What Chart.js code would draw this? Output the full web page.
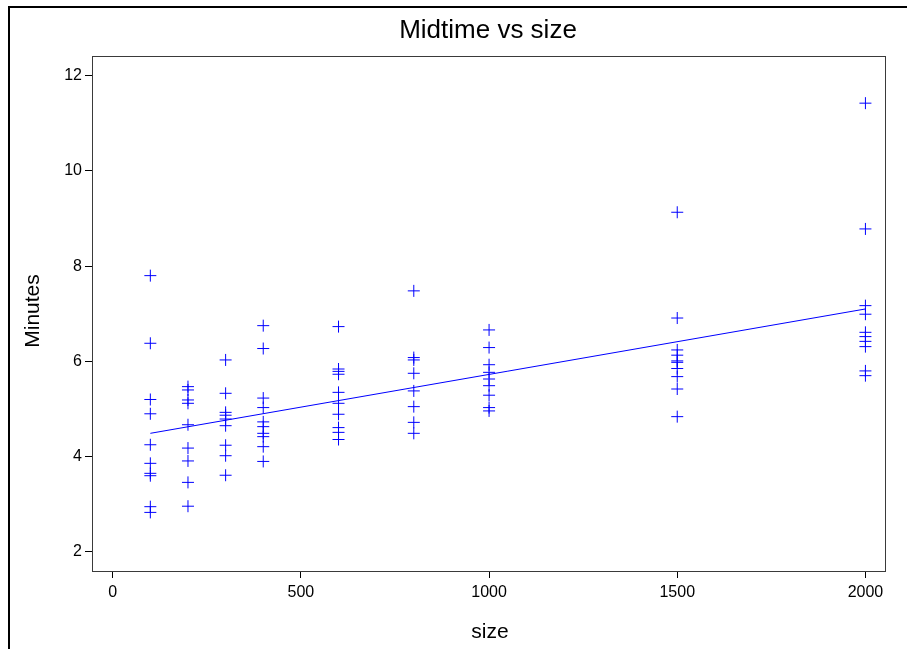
<!DOCTYPE html>
<html>
<head>
<meta charset="utf-8">
<script src="https://cdn.jsdelivr.net/npm/chart.js@4/dist/chart.umd.min.js"></script>
<style>
  html, body { margin: 0; padding: 0; background: #ffffff; }
  #wrap { width: 907px; height: 649px; position: relative; }
</style>
</head>
<body>
<div id="wrap"><canvas id="c" width="907" height="649"></canvas></div>
<script>
// ---- data ----
const sizes = [100, 200, 300, 400, 600, 800, 1000, 1500, 2000];
const minutesAt100  = [7.80, 6.38, 5.20, 4.90, 4.25, 3.86, 3.65, 3.60, 2.95, 2.83];
const minutesAt200  = [5.47, 5.40, 5.19, 5.12, 4.67, 4.18, 3.91, 3.46, 2.96];
const minutesAt300  = [6.03, 5.33, 4.93, 4.87, 4.79, 4.65, 4.24, 4.02, 3.61];
const minutesAt400  = [6.75, 6.27, 5.23, 5.03, 4.73, 4.63, 4.49, 4.42, 4.21, 3.90];
const minutesAt600  = [6.73, 5.84, 5.79, 5.73, 5.35, 5.12, 4.89, 4.61, 4.51, 4.36];
const minutesAt800  = [7.48, 6.08, 6.03, 5.75, 5.38, 5.05, 4.72, 4.49];
const minutesAt1000 = [6.66, 6.29, 5.93, 5.77, 5.63, 5.49, 5.29, 5.03, 4.96];
const minutesAt1500 = [9.13, 6.91, 6.24, 6.13, 6.01, 5.98, 5.85, 5.68, 5.42, 4.84];
const minutesAt2000 = [11.42, 8.78, 7.17, 6.99, 6.61, 6.52, 6.42, 6.31, 5.80, 5.70];
const minutesBySize = [minutesAt100, minutesAt200, minutesAt300, minutesAt400, minutesAt600,
                       minutesAt800, minutesAt1000, minutesAt1500, minutesAt2000];
// fitted line endpoints
const fitSize = [100, 2000];
const fitMinutes = [4.49, 7.10];
const xTicks = [0, 500, 1000, 1500, 2000];
const yTicks = [2, 4, 6, 8, 10, 12];

const points = [];
sizes.forEach((s, i) => minutesBySize[i].forEach(m => points.push({ x: s, y: m })));
const fitPoints = fitSize.map((s, i) => ({ x: s, y: fitMinutes[i] }));

const FONT = '"Liberation Sans", Arial, sans-serif';

const decor = {
  id: 'decor',
  beforeDraw(chart) {
    const ctx = chart.ctx;
    ctx.save();
    ctx.fillStyle = '#ffffff';
    ctx.fillRect(0, 0, chart.width, chart.height);
    ctx.restore();
  },
  afterDraw(chart) {
    const ctx = chart.ctx;
    const a = chart.chartArea;
    ctx.save();
    // outer frame
    ctx.strokeStyle = '#000000';
    ctx.lineWidth = 2;
    ctx.strokeRect(9, 7, chart.width + 20, chart.height + 20);
    // plot box
    ctx.strokeStyle = '#3a3a3a';
    ctx.lineWidth = 1;
    ctx.strokeRect(Math.round(a.left) + 0.5, Math.round(a.top) + 0.5,
                   Math.round(a.right - a.left), Math.round(a.bottom - a.top));
    // title
    ctx.fillStyle = '#000000';
    ctx.textAlign = 'center';
    ctx.textBaseline = 'middle';
    ctx.font = '26px ' + FONT;
    ctx.fillText('Midtime vs size', 488, 31);
    // x axis title
    ctx.font = '21px ' + FONT;
    ctx.fillText('size', 490, 632);
    // y axis title
    ctx.translate(33, 311);
    ctx.rotate(-Math.PI / 2);
    ctx.fillText('Minutes', 0, 0);
    ctx.restore();
  }
};

new Chart(document.getElementById('c'), {
  data: {
    datasets: [
      {
        type: 'scatter',
        label: 'Minutes',
        data: points,
        pointStyle: 'cross',
        pointRadius: 6,
        pointHoverRadius: 6,
        borderColor: '#0000ff',
        backgroundColor: '#0000ff',
        borderWidth: 1
      },
      {
        type: 'line',
        label: 'Fit',
        data: fitPoints,
        borderColor: '#0000ff',
        borderWidth: 1,
        pointRadius: 0,
        fill: false,
        tension: 0
      }
    ]
  },
  options: {
    responsive: false,
    animation: false,
    devicePixelRatio: 1,
    layout: { padding: { left: 0, top: 56, right: 22, bottom: 0 } },
    plugins: {
      legend: { display: false },
      tooltip: { enabled: false },
      title: { display: false }
    },
    scales: {
      x: {
        type: 'linear',
        min: -55,
        max: 2052,
        afterBuildTicks(scale) { scale.ticks = xTicks.map(v => ({ value: v })); },
        afterFit(scale) { scale.height = 78; },
        grid: { drawOnChartArea: false, drawTicks: true, tickLength: 7, color: '#000000' },
        border: { display: false },
        ticks: { color: '#000000', font: { family: FONT, size: 16 }, padding: 5, maxRotation: 0,
                 callback: v => String(v) }
      },
      y: {
        type: 'linear',
        min: 1.6,
        max: 12.41,
        afterBuildTicks(scale) { scale.ticks = yTicks.map(v => ({ value: v })); },
        afterFit(scale) { scale.width = 92; },
        grid: { drawOnChartArea: false, drawTicks: true, tickLength: 7, color: '#000000' },
        border: { display: false },
        ticks: { color: '#000000', font: { family: FONT, size: 16 }, padding: 3,
                 callback: v => String(v) }
      }
    }
  },
  plugins: [decor]
});
</script>
</body>
</html>
